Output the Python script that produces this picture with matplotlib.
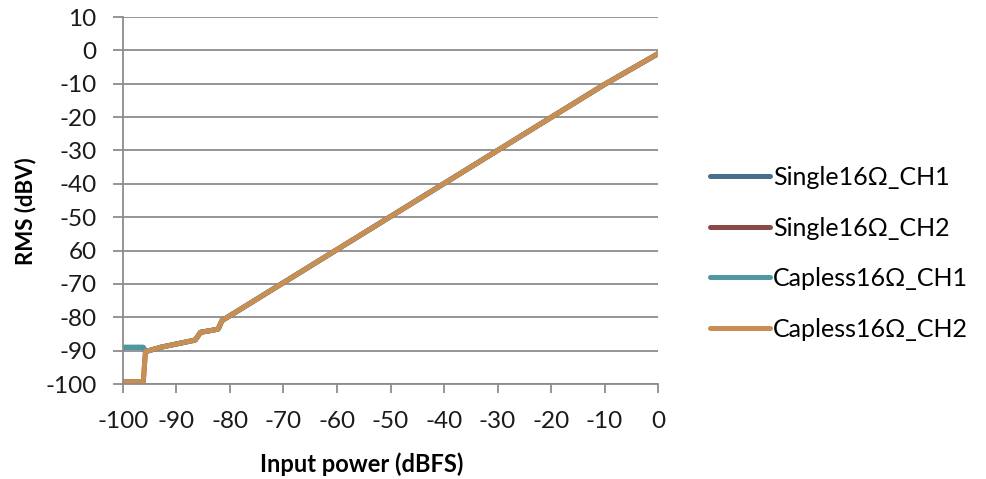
import matplotlib.pyplot as plt

plt.rcParams['font.family'] = ['Lato', 'DejaVu Sans']
plt.rcParams['axes.unicode_minus'] = False

# 读图估计的数据点（横轴 dBFS，纵轴 dBV）
x_pts = [-100, -96.2, -95.8, -93, -90, -87, -86.5, -85.5, -83, -82.2, -81.5, -10, 0]
ch1_y = [-89, -89, -90.3, -89, -88, -87, -86.8, -84.5, -83.8, -83.5, -81, -10.2, -1]
ch2_y = [-99.3, -99.3, -90.3, -89, -88, -87, -86.8, -84.5, -83.8, -83.5, -81, -10.2, -1]

series_names = ['Single16Ω_CH1', 'Single16Ω_CH2', 'Capless16Ω_CH1', 'Capless16Ω_CH2']
series_data = [ch1_y, ch2_y, ch1_y, ch2_y]
series_colors = ['#4a6d8c', '#8a4848', '#4f97a2', '#c98f52']

x_ticks = list(range(-100, 1, 10))
y_ticks = list(range(-100, 11, 10))
y_tick_labels = ['-100', '-90', '-80', '-70', '60', '-50', '-40', '-30', '-20', '-10', '0', '10']

fig = plt.figure(figsize=(9.87, 4.79), dpi=100)
ax = fig.add_axes([0.1246, 0.1983, 0.5421, 0.7662])

for name, y, c in zip(series_names, series_data, series_colors):
    ax.plot(x_pts, y, color=c, lw=3.6, label=name, solid_capstyle='round', solid_joinstyle='round')

ax.set_xlim(-100, 0)
ax.set_ylim(-100, 10)
ax.set_xticks(x_ticks)
ax.set_yticks(y_ticks)
ax.set_yticklabels(y_tick_labels)
ax.grid(axis='y', color='#8c8c8c', lw=1.3)
ax.set_axisbelow(True)
for s in ['top', 'right']:
    ax.spines[s].set_visible(False)
for s in ['left', 'bottom']:
    ax.spines[s].set_color('#8c8c8c')
    ax.spines[s].set_linewidth(1.3)
ax.tick_params(axis='x', direction='out', length=6.5, width=1.3, color='#8c8c8c',
               labelsize=17.5, pad=13, labelcolor='#1a1a1a')
ax.tick_params(axis='y', direction='out', length=7, width=1.3, color='#8c8c8c',
               labelsize=17.5, pad=12, labelcolor='#1a1a1a')

ax.set_xlabel('Input power (dBFS)', fontsize=17, fontweight='bold')
ax.xaxis.set_label_coords(0.446, -0.185)
ax.set_ylabel('RMS (dBV)', fontsize=16, fontweight='bold')
ax.yaxis.set_label_coords(-0.161, 0.471)

leg = ax.legend(loc='center left', bbox_to_anchor=(1.078, 0.356), frameon=False,
                borderaxespad=0, fontsize=18, handlelength=2.4, handletextpad=0.12,
                labelspacing=1.1)

plt.savefig('out.png', dpi=100)
